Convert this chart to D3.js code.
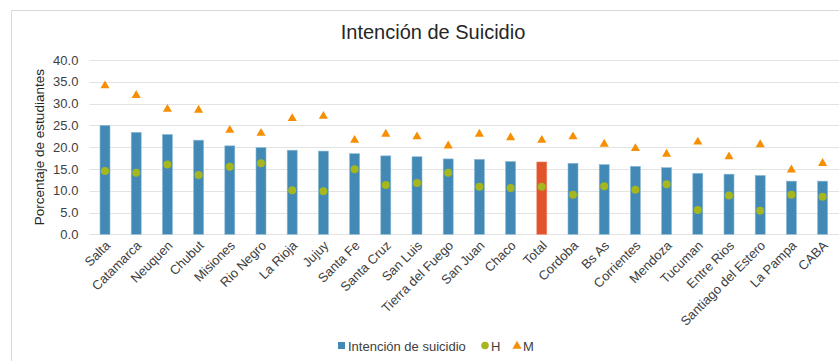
<!DOCTYPE html>
<html>
<head>
<meta charset="utf-8">
<script src="https://cdn.jsdelivr.net/npm/d3@7"></script>
<style>
  html, body { margin: 0; padding: 0; background: #fff; }
  svg { display: block; font-family: "Liberation Sans", Arial, sans-serif; }
</style>
</head>
<body>
<svg id="chart" width="839" height="361"></svg>
<script>
// Provinces ordered by overall suicide-intention rate, with the national total
const provincias = ["Salta", "Catamarca", "Neuquen", "Chubut", "Misiones", "Rio Negro",
  "La Rioja", "Jujuy", "Santa Fe", "Santa Cruz", "San Luis", "Tierra del Fuego",
  "San Juan", "Chaco", "Total", "Cordoba", "Bs As", "Corrientes", "Mendoza",
  "Tucuman", "Entre Rios", "Santiago del Estero", "La Pampa", "CABA"];
// Overall rate (bars)
const intencion = [25.0, 23.4, 22.9, 21.6, 20.3, 19.9, 19.3, 19.1, 18.5, 18.0, 17.8, 17.3,
  17.2, 16.7, 16.6, 16.3, 16.0, 15.6, 15.3, 14.0, 13.8, 13.5, 12.2, 12.2];
// Males (H)
const hombres = [14.5, 14.1, 16.0, 13.6, 15.5, 16.3, 10.1, 9.9, 14.9, 11.3, 11.8, 14.1,
  10.9, 10.6, 10.9, 9.1, 11.0, 10.2, 11.5, 5.6, 8.9, 5.4, 9.1, 8.6];
// Females (M)
const mujeres = [34.1, 31.9, 28.7, 28.5, 23.9, 23.2, 26.6, 27.1, 21.6, 23.0, 22.4, 20.3,
  23.0, 22.2, 21.6, 22.4, 20.7, 19.7, 18.4, 21.2, 17.8, 20.6, 14.8, 16.3];
const yTicks = [0, 5, 10, 15, 20, 25, 30, 35, 40];

const svg = d3.select("#chart");
const W = 839, H = 361;
const plot = { left: 89.4, right: 838.2, top: 60, bottom: 234.3 };

// Outer chart frame
svg.append("rect")
  .attr("x", 11.5).attr("y", 10.5)
  .attr("width", W + 20).attr("height", H + 20)
  .attr("fill", "#fff").attr("stroke", "#d9d9d9").attr("stroke-width", 1);

const x = d3.scaleBand().domain(provincias).range([plot.left, plot.right]).paddingInner(0.68).paddingOuter(0.34);
const y = d3.scaleLinear().domain([0, 40]).range([plot.bottom, plot.top]);

// Gridlines
svg.append("g").selectAll("line").data(yTicks).join("line")
  .attr("x1", plot.left).attr("x2", W)
  .attr("y1", d => Math.round(y(d)) + 0.5).attr("y2", d => Math.round(y(d)) + 0.5)
  .attr("stroke", "#e3e3e3").attr("stroke-width", 1.2);

// Y axis labels
const yAxis = d3.axisLeft(y).tickValues(yTicks).tickFormat(d3.format(".1f")).tickSize(0).tickPadding(11);
const gy = svg.append("g").attr("transform", `translate(${plot.left},0)`).call(yAxis);
gy.select(".domain").remove();
gy.selectAll("text").attr("font-size", 13).attr("fill", "#404040")
  .attr("font-family", "Liberation Sans, Arial, sans-serif");

// Y axis title
svg.append("text")
  .attr("transform", `translate(44,${(plot.top + plot.bottom) / 2}) rotate(-90)`)
  .attr("text-anchor", "middle")
  .attr("font-size", 13.5).attr("fill", "#262626")
  .text("Porcentaje de estudiantes");

// Bars
const bw = 10;
svg.append("g").selectAll("rect").data(provincias).join("rect")
  .attr("x", (d) => x(d) + x.bandwidth() / 2 - bw / 2)
  .attr("width", bw)
  .attr("y", (d, i) => y(intencion[i]))
  .attr("height", (d, i) => y(0) - y(intencion[i]))
  .attr("fill", d => d === "Total" ? "#e1532a" : "#4289b6")
  .attr("stroke", d => d === "Total" ? "#f08a6c" : "#8dbbd8")
  .attr("stroke-width", 0.6);

// Males: circles
svg.append("g").selectAll("circle").data(provincias).join("circle")
  .attr("cx", d => x(d) + x.bandwidth() / 2)
  .attr("cy", (d, i) => y(hombres[i]))
  .attr("r", 4)
  .attr("fill", "#a5b61e");

// Females: triangles
const tri = d3.symbol().type(d3.symbolTriangle).size(36);
svg.append("g").selectAll("path").data(provincias).join("path")
  .attr("transform", (d, i) => `translate(${x(d) + x.bandwidth() / 2},${y(mujeres[i])})`)
  .attr("d", tri)
  .attr("fill", "#f78f05");

// X axis labels
const gx = svg.append("g");
gx.selectAll("text").data(provincias).join("text")
  .attr("transform", d => `translate(${x(d) + x.bandwidth() / 2 + 6},${plot.bottom + 12}) rotate(-45)`)
  .attr("text-anchor", "end")
  .attr("font-size", 13).attr("fill", "#404040")
  .text(d => d);

// Title
svg.append("text")
  .attr("x", 433).attr("y", 39)
  .attr("text-anchor", "middle")
  .attr("font-size", 20).attr("fill", "#262626")
  .text("Intención de Suicidio");

// Legend
const lg = svg.append("g").attr("transform", "translate(0,346)");
lg.append("rect").attr("x", 338).attr("y", -4).attr("width", 7).attr("height", 7).attr("fill", "#4289b6");
lg.append("text").attr("x", 348).attr("y", 4.5).attr("font-size", 13).attr("fill", "#404040").text("Intención de suicidio");
lg.append("circle").attr("cx", 485).attr("cy", -0.5).attr("r", 3.8).attr("fill", "#a5b61e");
lg.append("text").attr("x", 491).attr("y", 4.5).attr("font-size", 13).attr("fill", "#404040").text("H");
lg.append("path").attr("transform", "translate(517,0)").attr("d", d3.symbol().type(d3.symbolTriangle).size(36)).attr("fill", "#f78f05");
lg.append("text").attr("x", 523).attr("y", 4.5).attr("font-size", 13).attr("fill", "#404040").text("M");
</script>
</body>
</html>
